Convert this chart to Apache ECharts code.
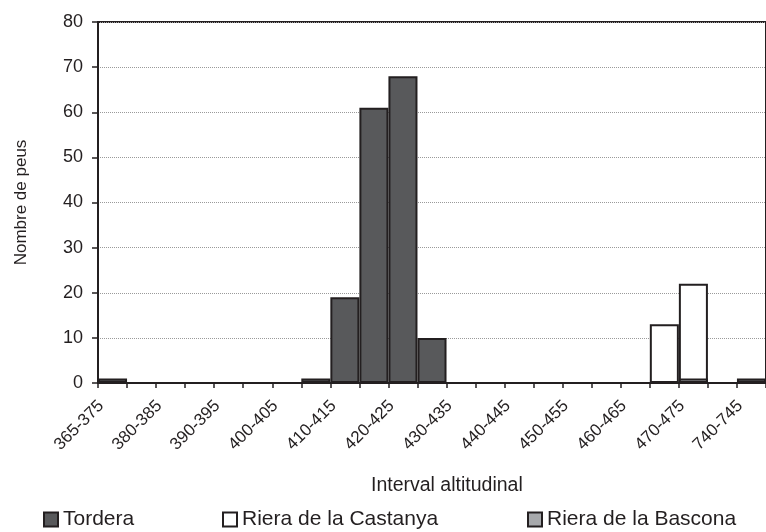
<!DOCTYPE html>
<html>
<head>
<meta charset="utf-8">
<script src="https://cdn.jsdelivr.net/npm/echarts@6/dist/echarts.min.js"></script>
<style>
html,body{margin:0;padding:0;background:#fff;}
#chart{width:766px;height:532px;}
</style>
</head>
<body>
<div id="chart"></div>
<script>
const categories = ['365-375','375-380','380-385','385-390','390-395','395-400','400-405','405-410','410-415','415-420','420-425','425-430','430-435','435-440','440-445','445-450','450-455','455-460','460-465','465-470','470-475','475-480','740-745'];
const tordera  = [1,0,0,0,0,0,0,1,19,61,68,10,0,0,0,0,0,0,0,0,0,0,1];
const castanya = [0,0,0,0,0,0,0,0,0,0,0,0,0,0,0,0,0,0,0,13,22,0,0];
const bascona  = [0,0,0,0,0,0,0,0,0,0,0,0,0,0,0,0,0,0,0,0,1,0,0];
const yTicks = [0,10,20,30,40,50,60,70,80];

const FONT = '"Liberation Sans", Arial, sans-serif';
const INK = '#231f20';
const chart = echarts.init(document.getElementById('chart'));
const barBorder = {borderColor:INK, borderWidth:2};
const legendText = {fontFamily:FONT, fontSize:21, color:INK};
chart.setOption({
  animation:false,
  backgroundColor:'#fff',
  grid:{left:98, width:672, top:22, bottom:149, show:true, borderColor:INK, borderWidth:2, backgroundColor:'transparent'},
  legend:[
    {data:['Tordera'], left:43, top:509, padding:0, itemWidth:14, itemHeight:14, icon:'rect', textStyle:legendText},
    {data:['Riera de la Castanya'], left:222, top:509, padding:0, itemWidth:14, itemHeight:14, icon:'rect', textStyle:legendText},
    {data:['Riera de la Bascona'], left:527, top:509, padding:0, itemWidth:14, itemHeight:14, icon:'rect', textStyle:legendText}
  ],
  xAxis:{
    type:'category', data:categories,
    axisLine:{lineStyle:{color:INK, width:2}},
    axisTick:{show:true, interval:0, length:5, lineStyle:{color:INK, width:1.5}},
    axisLabel:{interval:1, rotate:45, margin:9, padding:[0,16,0,0], fontFamily:FONT, fontSize:17, color:INK},
    splitLine:{show:false}
  },
  yAxis:{
    type:'value', min:0, max:80, interval:10,
    name:'Nombre de peus', nameLocation:'middle', nameGap:68,
    nameTextStyle:{fontFamily:FONT, fontSize:17, color:INK},
    axisLine:{show:true, lineStyle:{color:INK, width:2}},
    axisTick:{show:true, length:6, lineStyle:{color:INK, width:1.5}},
    axisLabel:{margin:15, fontFamily:FONT, fontSize:18, color:INK,
      formatter:function(v){return yTicks.indexOf(v)>=0 ? String(v) : '';}},
    splitLine:{show:true, lineStyle:{color:'#9a9a9a', type:'dotted', width:1}}
  },
  graphic:[
    {type:'text', left:371, top:476, style:{text:'Interval altitudinal', fontFamily:FONT, fontSize:19.5, fill:INK}}
  ],
  series:[
    {name:'Tordera', type:'bar', data:tordera, barGap:'-100%', barCategoryGap:0,
     itemStyle:Object.assign({color:'#58595b'}, barBorder)},
    {name:'Riera de la Castanya', type:'bar', data:castanya, barGap:'-100%', barCategoryGap:0,
     itemStyle:Object.assign({color:'#ffffff'}, barBorder)},
    {name:'Riera de la Bascona', type:'bar', data:bascona, barGap:'-100%', barCategoryGap:0,
     itemStyle:Object.assign({color:'#a7a9ac'}, barBorder)}
  ]
});
</script>
</body>
</html>
